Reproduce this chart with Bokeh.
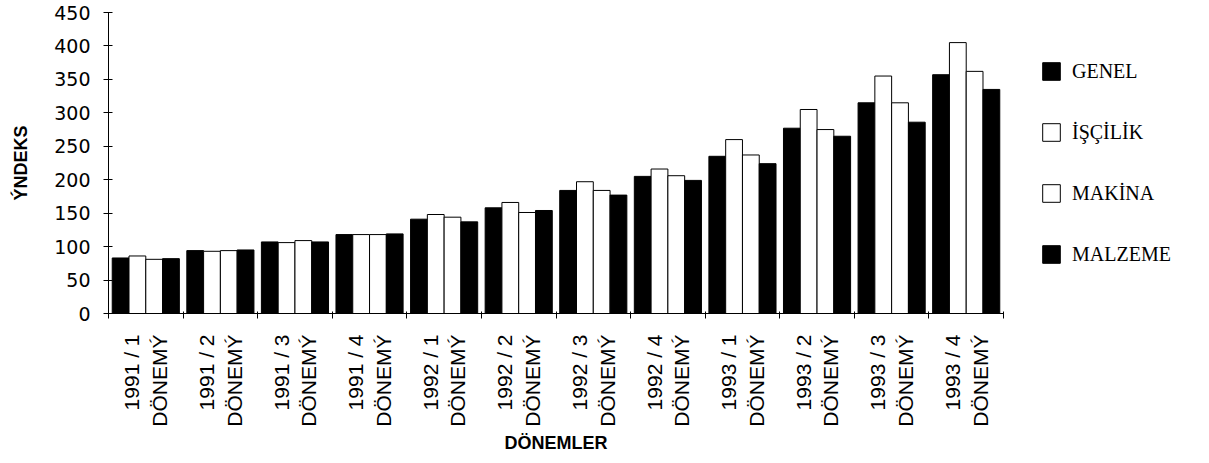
import math

from bokeh.embed import file_html
from bokeh.models import (ColumnDataSource, FixedTicker, Legend, LegendItem,
                          LinearAxis, Range1d)
from bokeh.plotting import figure
from bokeh.resources import INLINE
from bokeh.transform import dodge

# Quarterly construction cost indices, 1991-1993
periods = ["1991 / 1", "1991 / 2", "1991 / 3", "1991 / 4",
           "1992 / 1", "1992 / 2", "1992 / 3", "1992 / 4",
           "1993 / 1", "1993 / 2", "1993 / 3", "1993 / 4"]
period_suffix = "DÖNEMÝ"

genel = [83, 94, 107, 118, 141, 158, 184, 205, 235, 277, 315, 357]
iscilik = [86, 93, 106, 118, 148, 166, 197, 216, 260, 305, 355, 405]
makina = [81, 94, 109, 118, 144, 151, 184, 206, 237, 275, 315, 362]
malzeme = [82, 95, 107, 119, 137, 154, 177, 199, 224, 265, 286, 335]

series_names = ["GENEL", "İŞÇİLİK", "MAKİNA", "MALZEME"]
y_ticks = [0, 50, 100, 150, 200, 250, 300, 350, 400, 450]

# each period occupies one unit on the x scale; bars sit around its centre
centers = [i + 0.5 for i in range(len(periods))]
bounds = list(range(len(periods) + 1))

src = ColumnDataSource(dict(pos=centers, genel=genel, iscilik=iscilik,
                            makina=makina, malzeme=malzeme))

p = figure(frame_width=895, frame_height=301,
           x_range=Range1d(0, len(periods)), y_range=Range1d(0, 450),
           output_backend="svg", toolbar_location=None,
           x_axis_location=None, y_axis_location=None,
           min_border_left=108, min_border_right=0,
           min_border_top=12, min_border_bottom=150)
p.outline_line_color = None
p.xgrid.visible = False
p.ygrid.visible = False
p.background_fill_color = "white"
p.border_fill_color = "white"

bar_w = 0.225
offsets = [-1.5 * bar_w, -0.5 * bar_w, 0.5 * bar_w, 1.5 * bar_w]
cols = ["genel", "iscilik", "makina", "malzeme"]
fills = ["black", "white", "white", "black"]

renderers = []
for col, off, fill in zip(cols, offsets, fills):
    r = p.vbar(x=dodge("pos", off), top=col, width=bar_w,
               source=src, fill_color=fill, line_color="black", line_width=1)
    renderers.append(r)

# y axis
yaxis = LinearAxis(ticker=FixedTicker(ticks=y_ticks))
yaxis.axis_label = "ÝNDEKS"
yaxis.axis_label_text_font = "Liberation Sans"
yaxis.axis_label_text_font_style = "bold"
yaxis.axis_label_text_font_size = "18px"
yaxis.axis_label_text_color = "black"
yaxis.axis_label_standoff = 20
yaxis.major_label_text_font = "DejaVu Sans"
yaxis.major_label_text_font_size = "19px"
yaxis.major_label_text_color = "black"
yaxis.major_label_standoff = 13
yaxis.major_tick_in = 4
yaxis.major_tick_out = 5
yaxis.axis_line_color = "black"
yaxis.major_tick_line_color = "black"
p.add_layout(yaxis, "left")

# x axis: labels at centres, small ticks at group boundaries
xaxis = LinearAxis(ticker=FixedTicker(ticks=centers, minor_ticks=bounds))
xaxis.major_label_overrides = {c: f"{lab}\n{period_suffix}"
                               for c, lab in zip(centers, periods)}
xaxis.major_label_orientation = math.pi / 2
xaxis.major_label_text_font = "Liberation Sans"
xaxis.major_label_text_font_size = "21px"
xaxis.major_label_text_color = "black"
xaxis.major_label_standoff = 16
xaxis.major_tick_in = 0
xaxis.major_tick_out = 0
xaxis.minor_tick_in = 2
xaxis.minor_tick_out = 5
xaxis.minor_tick_line_color = "black"
xaxis.axis_line_color = "black"
xaxis.axis_label = "DÖNEMLER"
xaxis.axis_label_text_font = "Liberation Sans"
xaxis.axis_label_text_font_style = "bold"
xaxis.axis_label_text_font_size = "18px"
xaxis.axis_label_text_color = "black"
xaxis.axis_label_standoff = 3
p.add_layout(xaxis, "below")

items = [LegendItem(label=name, renderers=[r])
         for name, r in zip(series_names, renderers)]
legend = Legend(items=items, location="center_left", orientation="vertical",
                glyph_width=22, glyph_height=22, label_height=22,
                spacing=38, padding=0, margin=37, label_standoff=10,
                label_text_font="Liberation Serif", label_text_font_size="20px",
                label_text_color="black", border_line_color=None,
                background_fill_alpha=0)
p.add_layout(legend, "right")

open("out.html", "w").write(file_html(p, INLINE))
